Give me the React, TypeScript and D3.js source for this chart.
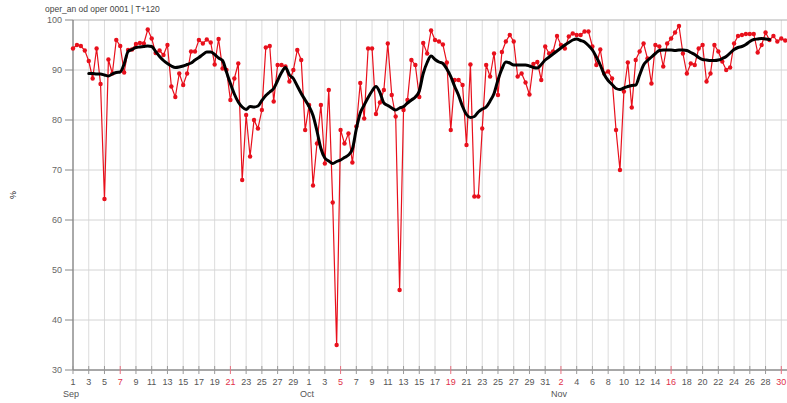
import React from "react";
import * as d3 from "d3";

// Half-daily scores (00 and 12 UTC), 1 Sep 2014 00Z .. 30 Nov 2014 12Z
const startTime = Date.UTC(2014, 8, 1);
const endDay = Date.UTC(2014, 10, 30);
const scores: number[] = [
  94.3, 95.0, 94.8, 93.9, 91.8, 88.3, 94.3, 87.2, 64.2, 92.1,
  89.3, 96.0, 94.8, 89.5, 94.0, 94.1, 95.2, 95.4, 95.3, 98.1,
  96.3, 93.4, 93.9, 93.0, 95.0, 86.7, 84.6, 89.3, 87.0, 89.3,
  93.7, 93.7, 96.0, 95.3, 96.1, 95.5, 91.1, 96.2, 90.3, 90.0,
  84.0, 88.3, 91.3, 68.0, 81.0, 72.7, 80.0, 78.3, 82.0, 94.5,
  94.8, 83.7, 91.0, 91.0, 90.7, 87.7, 90.0, 94.0, 92.0, 78.0,
  83.0, 66.9, 75.3, 83.0, 71.3, 86.0, 63.5, 35.0, 78.0, 75.3,
  77.3, 71.5, 78.7, 87.4, 80.3, 94.3, 94.3, 81.2, 83.5, 86.0,
  95.3, 85.0, 80.7, 46.0, 82.0, 84.0, 92.0, 91.0, 84.6, 95.4,
  93.3, 97.9, 96.0, 95.7, 95.1, 91.5, 78.0, 88.0, 88.0, 87.0,
  75.0, 91.1, 64.7, 64.7, 78.3, 91.0, 88.7, 93.3, 85.0, 93.6,
  95.7, 97.0, 95.7, 88.7, 89.3, 87.5, 85.1, 91.2, 91.6, 88.0,
  94.7, 93.3, 93.7, 96.8, 95.0, 94.3, 96.7, 97.3, 97.0, 97.0,
  97.7, 97.7, 94.7, 91.0, 94.1, 89.3, 89.7, 88.3, 78.0, 70.0,
  85.7, 91.5, 82.5, 92.0, 93.7, 95.3, 92.3, 87.3, 95.0, 94.7,
  90.7, 95.3, 96.3, 97.5, 98.8, 93.3, 89.3, 91.3, 91.0, 94.3,
  95.0, 87.7, 89.3, 95.0, 93.7, 91.7, 90.0, 90.5, 95.3, 96.8,
  97.0, 97.2, 97.2, 97.2, 93.5, 95.0, 97.5, 96.0, 96.8, 95.7,
  96.3, 95.9,
];

// Running-mean curve, half-daily from 3 Sep 00Z (step 4)
const meanStartStep = 4;
const runningMean: number[] = [
  89.3, 89.3, 89.2, 89.2, 89.0, 88.8, 89.2, 89.5, 89.6, 91.2,
  93.7, 94.1, 94.5, 94.6, 94.7, 94.8, 94.7, 93.7, 92.7, 91.9,
  91.3, 90.8, 90.5, 90.6, 90.8, 91.1, 91.4, 92.0, 92.5, 93.1,
  93.6, 93.6, 93.1, 92.4, 91.9, 89.6, 87.3, 85.2, 83.6, 82.6,
  82.1, 82.7, 82.6, 82.8, 83.9, 84.9, 85.6, 86.3, 87.9, 89.5,
  90.5, 89.0, 88.3, 86.8, 85.3, 84.0, 82.7, 80.9, 77.8, 74.3,
  72.4, 71.8, 71.3, 71.7, 72.0, 72.5, 73.0, 74.2, 78.2, 81.4,
  83.0, 84.5, 85.8, 86.7, 85.5, 83.4, 82.9, 82.4, 82.0, 82.4,
  82.7, 83.4, 84.0, 84.6, 85.8, 89.3, 91.5, 92.8, 92.1, 91.6,
  91.3, 90.2, 88.7, 86.7, 84.9, 82.7, 81.1, 80.5, 80.7, 81.6,
  82.2, 82.6, 83.8, 85.3, 88.0, 90.2, 91.6, 91.4, 91.0, 91.0,
  91.0, 91.0, 90.8, 90.5, 90.4, 91.1, 92.0, 92.6, 93.2, 93.8,
  94.4, 95.0, 95.5, 96.0, 96.2, 95.9, 95.6, 94.9, 94.0, 92.6,
  91.0, 89.1, 87.9, 87.1, 86.3, 86.1, 86.4, 86.7, 86.9, 87.0,
  89.0, 91.0, 91.9, 92.6, 93.3, 93.9, 94.0, 94.0, 94.0, 93.9,
  94.0, 94.0, 93.9, 93.5, 93.1, 92.5, 92.1, 92.0, 91.9, 91.9,
  92.0, 92.3, 92.7, 93.4, 94.1, 94.5, 94.7, 95.1, 95.7, 96.1,
  96.2, 96.3, 96.2, 96.1,
];

const yTicks: number[] = [30, 40, 50, 60, 70, 80, 90, 100];
const monthLabels: { day: number; text: string }[] = [
  { day: 0, text: "Sep" },
  { day: 30, text: "Oct" },
  { day: 62, text: "Nov" },
];
const title = "oper_an od oper 0001 | T+120";
const yLabel = "%";

const W = 787;
const H = 403;
const HALF_DAY = 12 * 3600 * 1000;
const DAY = 24 * 3600 * 1000;
const FONT = "'Liberation Sans', Arial, sans-serif";

export default function App() {
  const x = d3.scaleUtc().domain([new Date(startTime), new Date(endDay)]).range([73, 781.3]);
  const y = d3.scaleLinear().domain([30, 100]).range([370, 20]);

  const red = scores.map((v, i) => ({ t: new Date(startTime + i * HALF_DAY), v }));
  const mean = runningMean.map((v, i) => ({ t: new Date(startTime + (i + meanStartStep) * HALF_DAY), v }));

  const line = d3
    .line<{ t: Date; v: number }>()
    .x((d) => x(d.t))
    .y((d) => y(d.v));
  const smooth = d3
    .line<{ t: Date; v: number }>()
    .x((d) => x(d.t))
    .y((d) => y(d.v))
    .curve(d3.curveMonotoneX);

  // every second day carries a label and a gridline
  const labelDays = d3.utcDay.every(1)!.range(new Date(startTime), new Date(endDay + 1))
    .filter((_, i) => i % 2 === 0);

  const plotRight = W;

  return (
    <svg width={W} height={H} style={{ position: "absolute", left: 0, top: 0, background: "#fff" }}>
      <rect x={0} y={0} width={W} height={H} fill="#fff" />
      <text x={45} y={12} fontSize={8.5} fill="#444" fontFamily={FONT}>{title}</text>

      {/* grid */}
      {labelDays.map((d, i) => (
        <line key={"vg" + i} x1={x(d)} x2={x(d)} y1={20} y2={370} stroke="#dcdcdc" strokeWidth={1} />
      ))}
      {yTicks.map((t) => (
        <line key={"hg" + t} x1={73} x2={plotRight} y1={y(t)} y2={y(t)}
          stroke={t === 100 ? "#b0b0b0" : "#d4d4d4"} strokeWidth={1} />
      ))}

      {/* axes */}
      <line x1={73} x2={73} y1={20} y2={370} stroke="#666" strokeWidth={1} />
      <line x1={73} x2={plotRight} y1={370} y2={370} stroke="#666" strokeWidth={1} />
      {yTicks.map((t) => (
        <g key={"yt" + t}>
          <line x1={65} x2={73} y1={y(t)} y2={y(t)} stroke="#888" />
          <text x={62} y={y(t) + 3} fontSize={9} fill="#666" textAnchor="end" fontFamily={FONT}>{t}</text>
        </g>
      ))}
      {labelDays.map((d, i) => {
        const sunday = d.getUTCDay() === 0;
        return (
          <g key={"xt" + i}>
            <line x1={x(d)} x2={x(d)} y1={366} y2={374} stroke={sunday ? "#e87080" : "#999"} />
            <text x={x(d)} y={385} fontSize={9} fill={sunday ? "#e0304a" : "#555"} textAnchor="middle" fontFamily={FONT}>
              {d.getUTCDate()}
            </text>
          </g>
        );
      })}
      {monthLabels.map((m) => (
        <text key={m.text} x={x(new Date(startTime + m.day * DAY)) - 2} y={397} fontSize={9} fill="#555"
          textAnchor="middle" fontFamily={FONT}>{m.text}</text>
      ))}
      <text transform="translate(16,195) rotate(-90)" fontSize={9} fill="#222" textAnchor="middle" fontFamily={FONT}>{yLabel}</text>

      {/* series */}
      <path d={line(red) ?? ""} fill="none" stroke="#e8101c" strokeWidth={1.2} />
      {red.map((d, i) => (
        <circle key={"p" + i} cx={x(d.t)} cy={y(d.v)} r={2.2} fill="#e8101c" />
      ))}
      <path d={smooth(mean) ?? ""} fill="none" stroke="#000" strokeWidth={3} strokeLinejoin="round" strokeLinecap="round" />
    </svg>
  );
}
